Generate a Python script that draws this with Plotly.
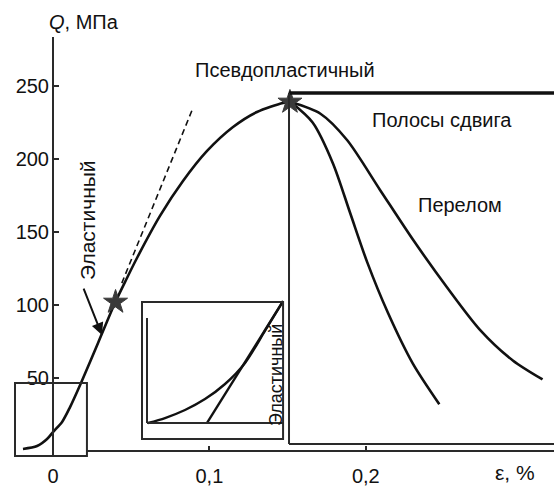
import plotly.graph_objects as go

# ---- data (schematic stress-strain curve) ----
main_x = [-0.0192, -0.0102, -0.0038, 0.000, 0.0058, 0.0109, 0.0179, 0.0288, 0.0396, 0.0473,
          0.0537, 0.0684, 0.0831, 0.0985, 0.1151, 0.1304, 0.1471, 0.1528]
main_y = [1.4, 3.4, 8.2, 13.0, 19.9, 30.1, 46.6, 74.0, 101.4, 118.5,
          132.2, 161.0, 184.9, 205.5, 221.9, 232.2, 238.4, 239.0]

fracture_x = [0.152, 0.166, 0.179, 0.190, 0.201, 0.214, 0.230, 0.247]
fracture_y = [239, 225, 197, 163, 129, 95, 60, 32]

shear_x = [0.152, 0.171, 0.188, 0.209, 0.230, 0.252, 0.273, 0.294, 0.313]
shear_y = [239, 231, 213, 179, 145, 112, 83, 62, 49]

tangent_x = [0.044, 0.0895]
tangent_y = [115, 235]

star_x = [0.040, 0.1515]
star_y = [102, 239]

inset_curve_x = [0.0607, 0.0716, 0.0844, 0.0972, 0.1100, 0.1228, 0.1355, 0.1471]
inset_curve_y = [19.2, 22.6, 28.1, 35.6, 45.9, 60.3, 82.2, 102.7]
inset_line_x = [0.0985, 0.1471]
inset_line_y = [19.2, 102.7]

x_tickvals = [0, 0.1, 0.2]
x_ticktext = ["0", "0,1", "0,2"]
y_tickvals = [50, 100, 150, 200, 250]

W, H = 554, 486
X_RANGE = [-0.03389, 0.32033]
Y_RANGE = [-23.97, 308.9]

INK = "#111111"
AX = "#2a2a2a"
FONT = "Liberation Sans, Arial, sans-serif"

fig = go.Figure()

curve_line = dict(color=INK, width=2.6, shape="spline", smoothing=0.8)
fig.add_trace(go.Scatter(x=main_x, y=main_y, mode="lines", line=curve_line, hoverinfo="skip"))
fig.add_trace(go.Scatter(x=fracture_x, y=fracture_y, mode="lines", line=curve_line, hoverinfo="skip"))
fig.add_trace(go.Scatter(x=shear_x, y=shear_y, mode="lines", line=curve_line, hoverinfo="skip"))
fig.add_trace(go.Scatter(x=tangent_x, y=tangent_y, mode="lines", line=dict(color=INK, width=1.6, dash="6px,4px"), hoverinfo="skip"))
fig.add_trace(go.Scatter(x=inset_curve_x, y=inset_curve_y, mode="lines", line=dict(color=INK, width=2.4, shape="spline", smoothing=0.8), hoverinfo="skip"))
fig.add_trace(go.Scatter(x=inset_line_x, y=inset_line_y, mode="lines", line=dict(color=INK, width=2.4), hoverinfo="skip"))
fig.add_trace(go.Scatter(x=star_x, y=star_y, mode="markers",
                         marker=dict(symbol="star", size=18, color="#3a3a3a", line=dict(color="#3a3a3a", width=1)),
                         hoverinfo="skip"))

shapes = []
def line(x0, y0, x1, y1, w=2, c=AX):
    shapes.append(dict(type="line", xref="x", yref="y", x0=x0, y0=y0, x1=x1, y1=y1,
                       line=dict(color=c, width=w)))

# axes
line(0, -3.4, 0, 283.6)
line(0.0217, 0, X_RANGE[1], 0)
# small box around origin
shapes.append(dict(type="rect", xref="x", yref="y", x0=-0.0243, y0=-3.4, x1=0.0217, y1=46.6,
                   line=dict(color=AX, width=2)))
# inset box
shapes.append(dict(type="rect", xref="x", yref="y", x0=0.0569, y0=8.2, x1=0.1471, y1=102.1,
                   line=dict(color=AX, width=2)))
line(0.0601, 19.2, 0.0601, 91.1)
line(0.0601, 19.2, 0.1471, 19.2)
# big box (post-peak region)
line(0.1509, 245.2, X_RANGE[1], 245.2, w=3.5, c="#111111")
line(0.1509, 4.8, 0.1509, 245.2)
line(0.1509, 4.8, X_RANGE[1], 4.8)

annotations = [
    dict(x=0.0198, y=293.8, text="<i>Q</i>, МПа", showarrow=False, font=dict(size=20)),
    dict(x=0.1483, y=261, text="Псевдопластичный", showarrow=False, font=dict(size=20)),
    dict(x=0.249, y=226.7, text="Полосы сдвига", showarrow=False, font=dict(size=20)),
    dict(x=0.2602, y=168.5, text="Перелом", showarrow=False, font=dict(size=20)),
    dict(x=0.0217, y=158.2, text="Эластичный", textangle=-90, showarrow=False, font=dict(size=21)),
    dict(x=0.1426, y=52, text="Эластичный", textangle=-90, showarrow=False, font=dict(size=18)),
    dict(x=0.2954, y=-14.4, text="ε, %", showarrow=False, font=dict(size=21)),
    # arrow pointing at elastic part
    dict(x=0.0313, y=79.5, ax=0.0192, ay=112.3, axref="x", ayref="y", xref="x", yref="y",
         text="", showarrow=True, arrowhead=2, arrowsize=1.2, arrowwidth=2, arrowcolor=INK),
]

fig.update_layout(
    width=W, height=H,
    margin=dict(l=0, r=0, t=0, b=0, autoexpand=False),
    paper_bgcolor="white", plot_bgcolor="white",
    showlegend=False,
    font=dict(family=FONT, color="#111111", size=20),
    shapes=shapes, annotations=annotations,
    xaxis=dict(range=X_RANGE, domain=[0, 1], showgrid=False, zeroline=False, showline=False,
               tickmode="array", tickvals=x_tickvals, ticktext=x_ticktext,
               ticks="inside", ticklen=5, tickwidth=2, tickcolor=AX,
               anchor="free", position=1 - 451 / H, ticklabelstandoff=11,
               automargin=False, tickfont=dict(size=20)),
    yaxis=dict(range=Y_RANGE, domain=[0, 1], showgrid=False, zeroline=False, showline=False,
               tickmode="array", tickvals=y_tickvals,
               ticks="inside", ticklen=5, tickwidth=2, tickcolor=AX,
               anchor="free", position=53 / W, ticklabelstandoff=4,
               automargin=False, tickfont=dict(size=20)),
)

fig.write_html("out.html", config={"displayModeBar": False},
               post_script="document.body.style.margin='0';document.body.style.overflow='hidden';")
